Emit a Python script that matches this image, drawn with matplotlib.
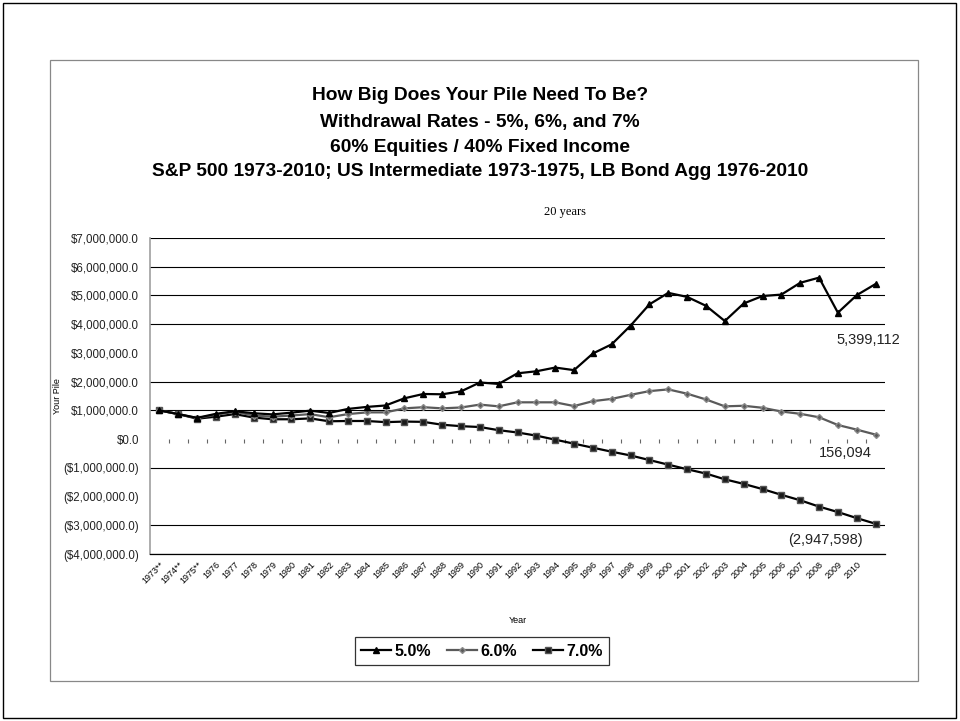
#how big does your pile need to be
#withdrawal rates 5%, 6%, 7% - 60/40 portfolio

#importing libs
import numpy as np
import matplotlib
matplotlib.use('Agg')
import matplotlib.pyplot as plt
from matplotlib.ticker import FuncFormatter, FixedLocator, NullFormatter
from matplotlib.patches import Rectangle
import warnings
warnings.simplefilter('ignore')

#year labels (last category has no label)
years = ['1973**', '1974**', '1975**'] + [str(y) for y in range(1976, 2011)] + ['']

#pile values in millions of dollars
rate_5 = [1.00, 0.87, 0.74, 0.88, 0.97, 0.90, 0.86, 0.92, 0.99, 0.91,
          1.05, 1.12, 1.17, 1.42, 1.57, 1.56, 1.66, 1.97, 1.92, 2.29,
          2.36, 2.49, 2.40, 2.98, 3.30, 3.95, 4.69, 5.09, 4.95, 4.64,
          4.11, 4.72, 4.98, 5.03, 5.44, 5.62, 4.40, 5.01, 5.399112]
rate_6 = [1.00, 0.87, 0.73, 0.85, 0.95, 0.82, 0.78, 0.82, 0.87, 0.76,
          0.87, 0.93, 0.93, 1.07, 1.11, 1.07, 1.10, 1.20, 1.14, 1.28,
          1.28, 1.28, 1.15, 1.32, 1.40, 1.54, 1.67, 1.73, 1.58, 1.38,
          1.14, 1.16, 1.09, 0.96, 0.88, 0.76, 0.49, 0.33, 0.156094]
rate_7 = [1.00, 0.87, 0.71, 0.78, 0.87, 0.75, 0.69, 0.69, 0.72, 0.62,
          0.63, 0.63, 0.59, 0.61, 0.60, 0.50, 0.45, 0.42, 0.31, 0.23,
          0.12, -0.02, -0.16, -0.30, -0.44, -0.57, -0.73, -0.89, -1.05, -1.20,
          -1.40, -1.56, -1.74, -1.94, -2.13, -2.35, -2.54, -2.75, -2.947598]

series_names = ['5.0%', '6.0%', '7.0%']

title_lines = ['How Big Does Your Pile Need To Be?',
               'Withdrawal Rates - 5%, 6%, and 7%',
               '60% Equities / 40% Fixed Income',
               'S&P 500 1973-2010; US Intermediate 1973-1975, LB Bond Agg 1976-2010']

plt.rcParams['font.family'] = ['Liberation Sans', 'DejaVu Sans']

fig = plt.figure(figsize=(9.6, 7.21), dpi=100)
ax = fig.add_axes([150/960, 1-554/721, 735/960, 316/721])

x = np.arange(len(years))
s5 = np.array(rate_5) * 1e6
s6 = np.array(rate_6) * 1e6
s7 = np.array(rate_7) * 1e6

ax.plot(x, s5, color='black', lw=1.6, marker='^', ms=5, label=series_names[0], zorder=4)
ax.plot(x, s6, color='#5a5a5a', lw=1.6, marker='D', ms=3, mec='#8a8a8a', label=series_names[1], zorder=3)
ax.plot(x, s7, color='black', lw=1.6, marker='s', ms=5, mfc='#1a1a1a', mec='#555555', label=series_names[2], zorder=2)

#end labels
def fmt_label(v):
    if v < 0:
        return '({:,.0f})'.format(-v)
    return '{:,.0f}'.format(v)

offsets = [(-5, -40), (-22, -13), (-36, -12)]
for s, off in zip([s5, s6, s7], offsets):
    ax.annotate(fmt_label(s[-1]), xy=(x[-1], s[-1]), xytext=off, textcoords='offset points',
                ha='center', va='center', fontsize=10.5, color='#222222')

ax.set_xlim(-0.5, len(years) - 0.5)
ax.set_ylim(-4e6, 7e6)

#y axis - labels on every million
yticks = np.arange(-4e6, 7.5e6, 1e6)
ax.set_yticks(yticks)
def money(v, pos):
    if v < 0:
        return '(${:,.1f})'.format(-v)
    return '${:,.1f}'.format(v)
ax.yaxis.set_major_formatter(FuncFormatter(money))
ax.tick_params(axis='y', which='major', labelsize=8.3, length=0, pad=8, labelcolor='#222222')

#some gridlines do not show in the original
grid_vals = [v for v in yticks if round(v / 1e6) not in (3, 0, -2)]
ax.set_yticks(grid_vals, minor=True)
ax.tick_params(axis='y', which='minor', length=3, width=0.8, color='black')
for v in grid_vals:
    ax.axhline(v, color='black', lw=0.8, zorder=0.5)
ax.set_ylabel('Your Pile', fontsize=6.5, labelpad=1)

#x axis
ax.set_xticks(x)
ax.set_xticklabels(years, rotation=45, ha='right', rotation_mode='anchor', fontsize=6.5)
ax.tick_params(axis='x', length=0, pad=4)
ax.set_xlabel('Year', fontsize=6.5, labelpad=22)

for side in ['top', 'right']:
    ax.spines[side].set_visible(False)
ax.spines['left'].set_color('#a0a0a0')
ax.spines['left'].set_linewidth(1.2)
ax.spines['bottom'].set_color('black')
ax.spines['bottom'].set_linewidth(0.9)

#category ticks on the zero line
zero_ax = ax.secondary_xaxis(4/11)
zero_ax.xaxis.set_ticks_position('bottom')
zero_ax.xaxis.set_major_locator(FixedLocator(x[:-1] + 0.5))
zero_ax.xaxis.set_major_formatter(NullFormatter())
zero_ax.tick_params(axis='x', direction='out', length=3, width=0.8, color='#666666')
zero_ax.spines['bottom'].set_visible(False)
zero_ax.spines['top'].set_visible(False)

#titles
title_y = [96, 122, 147, 172]
for line, ty in zip(title_lines, title_y):
    fig.text(0.5, 1 - ty/721, line, ha='center', va='center', fontsize=13.8,
             fontweight='bold', family=['Liberation Sans Narrow', 'Liberation Sans'])
fig.text(565/960, 1 - 212/721, '20 years', ha='center', va='center', fontsize=9,
         family='Liberation Serif')

#legend
leg = ax.legend(loc='center', bbox_to_anchor=(482/960, 1 - 651/721), bbox_transform=fig.transFigure,
                ncol=3, frameon=True, fancybox=False, edgecolor='black',
                prop={'weight': 'bold', 'size': 11.5}, handlelength=1.9, handletextpad=0.2,
                columnspacing=1.0, borderpad=0.4)
leg.get_frame().set_linewidth(0.9)

#frames
fig.add_artist(Rectangle((50/960, 1 - 681/721), 868/960, 621/721, transform=fig.transFigure,
                         fill=False, edgecolor='#888888', lw=0.9))
fig.add_artist(Rectangle((3/960, 1 - 718/721), 953/960, 715/721, transform=fig.transFigure,
                         fill=False, edgecolor='black', lw=1.0))

fig.savefig('out.png', dpi=100)
